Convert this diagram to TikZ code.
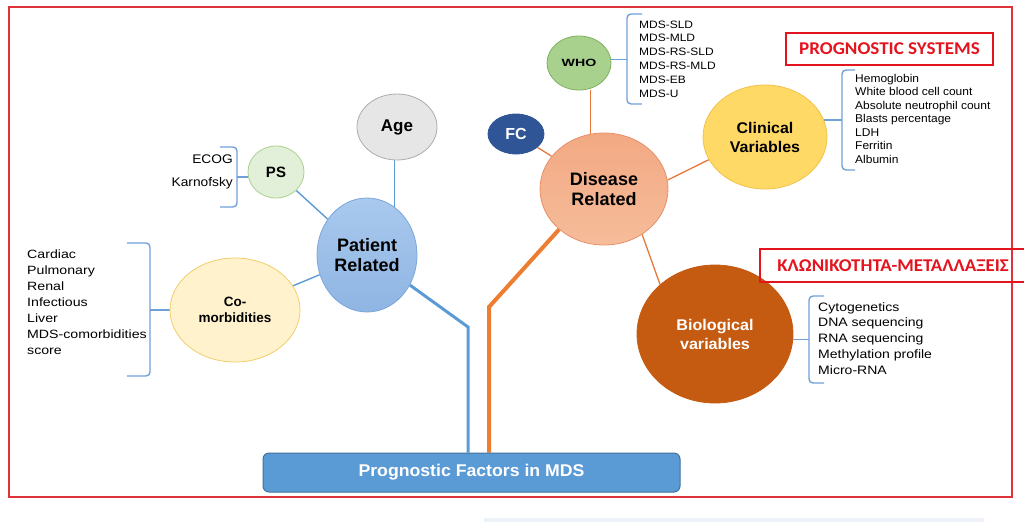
\documentclass[tikz,border=0pt]{standalone}
\usepackage{fontspec}
\setmainfont{Liberation Sans}
\newfontfamily\titlefont{Carlito}
\usetikzlibrary{shapes.geometric,backgrounds}
\definecolor{redc}{HTML}{E3141E}
\definecolor{framered}{HTML}{E0323A}
\definecolor{lineblue}{HTML}{5B9BD5}
\definecolor{brblue}{HTML}{6FA0D8}
\definecolor{lineorange}{HTML}{E8783A}
\definecolor{trunkorange}{HTML}{ED7D31}
\definecolor{pattop}{HTML}{A9C9EE}
\definecolor{patbot}{HTML}{8FB5E3}
\definecolor{patdraw}{HTML}{7AA6DA}
\definecolor{agefill}{HTML}{E6E6E6}
\definecolor{agedraw}{HTML}{ACACAC}
\definecolor{psfill}{HTML}{E2F0D9}
\definecolor{psdraw}{HTML}{A9D18E}
\definecolor{comfill}{HTML}{FFF2CC}
\definecolor{comdraw}{HTML}{F2CD6A}
\definecolor{distop}{HTML}{F2A983}
\definecolor{disbot}{HTML}{F6BC9A}
\definecolor{disdraw}{HTML}{E8906A}
\definecolor{fcfill}{HTML}{2F5597}
\definecolor{whofill}{HTML}{A9D18E}
\definecolor{whodraw}{HTML}{7FB060}
\definecolor{clinfill}{HTML}{FFD966}
\definecolor{clindraw}{HTML}{F0C24A}
\definecolor{biofill}{HTML}{C55A11}
\definecolor{boxfill}{HTML}{5B9BD5}
\definecolor{boxdraw}{HTML}{41719C}
\definecolor{faint}{HTML}{EEF3F9}
\newcommand\sizestretch[3]{\fontsize{#1}{#2}\selectfont\addfontfeature{FakeStretch=#3}}
\begin{document}
\begin{tikzpicture}[x=1pt,y=-1pt,
  bub/.style={ellipse, inner sep=0pt, align=center, line width=0.8pt},
  bline/.style={draw=lineblue, line width=1.4pt},
  oline/.style={draw=lineorange, line width=1.3pt},
  brk/.style={draw=brblue, line width=1.4pt, rounded corners=4pt},
  tick/.style={draw=brblue, line width=1.4pt},
  lst/.style={inner sep=0pt, align=left, anchor=north west},
  redbox/.style={draw=redc, line width=1.5pt, inner sep=0pt, text=redc}
]
\useasboundingbox (0,0) rectangle (1024,522);
% outer frame
\draw[draw=framered, line width=1.2pt] (9,7) rectangle (1012,497);
\fill[faint] (484,518) rectangle (984,522);

% main box
\node[rectangle, rounded corners=6pt, fill=boxfill, draw=boxdraw, line width=1pt,
      minimum width=417, minimum height=39, text=white,
      font=\bfseries\sizestretch{17}{20}{1.04}] (box) at (471.5,472.5) {Prognostic Factors in MDS};

% patient side
\node[bub, top color=pattop, bottom color=patbot, draw=patdraw, minimum width=100, minimum height=114,
      font=\bfseries\sizestretch{18}{20}{1}] (pat) at (367,255) {Patient\\Related};
\node[bub, fill=agefill, draw=agedraw, minimum width=80, minimum height=66,
      font=\bfseries\sizestretch{17}{20}{1}] (age) at (397,127) {Age};
\node[bub, fill=psfill, draw=psdraw, minimum width=56, minimum height=52,
      font=\bfseries\sizestretch{15}{18}{1}] (ps) at (276,172) {PS};
\node[bub, fill=comfill, draw=comdraw, minimum width=130, minimum height=104,
      font=\bfseries\sizestretch{13.5}{16.5}{1}] (com) at (235,310) {Co-\\morbidities};

% disease side
\node[bub, top color=distop, bottom color=disbot, draw=disdraw, minimum width=128, minimum height=112,
      font=\bfseries\sizestretch{18}{20}{1}] (dis) at (604,189) {Disease\\Related};
\node[bub, fill=fcfill, draw=fcfill, minimum width=56, minimum height=40, text=white,
      font=\bfseries\sizestretch{16}{18}{1}] (fc) at (516,134) {FC};
\node[bub, fill=whofill, draw=whodraw, minimum width=64, minimum height=54,
      font=\bfseries\sizestretch{10.5}{12}{1.35}] (who) at (579,63) {WHO};
\node[bub, fill=clinfill, draw=clindraw, minimum width=124, minimum height=104,
      font=\bfseries\sizestretch{15.5}{19}{1.03}] (clin) at (765,137) {Clinical\\Variables};
\node[bub, fill=biofill, draw=biofill, minimum width=156, minimum height=138, text=white,
      font=\bfseries\sizestretch{15.5}{19}{1.04}] (bio) at (715,334) {Biological\\variables};

% lists
\node[lst, font=\sizestretch{12}{16}{1.18}] (comlist) at (27,249.5)
  {Cardiac\\Pulmonary\\Renal\\Infectious\\Liver\\MDS-comorbidities\\score};
\node[inner sep=0pt, align=right, anchor=north east, font=\sizestretch{12.5}{23}{1.1}] (pslist) at (233,155)
  {ECOG\\Karnofsky};
\node[lst, font=\sizestretch{10.7}{13.8}{1.12}] (wholist) at (639,20.5)
  {MDS-SLD\\MDS-MLD\\MDS-RS-SLD\\MDS-RS-MLD\\MDS-EB\\MDS-U};
\node[lst, font=\sizestretch{11.3}{13.5}{1.06}] (clinlist) at (855,74)
  {Hemoglobin\\White blood cell count\\Absolute neutrophil count\\Blasts percentage\\LDH\\Ferritin\\Albumin};
\node[lst, font=\sizestretch{12.2}{15.8}{1.15}] (biolist) at (818,302)
  {Cytogenetics\\DNA sequencing\\RNA sequencing\\Methylation profile\\Micro-RNA};

% red titles
\node[redbox, minimum width=207, minimum height=32,
      font=\titlefont\bfseries\sizestretch{18}{20}{1.06}] (progsys) at (889.5,49) {PROGNOSTIC SYSTEMS};
\node[redbox, minimum width=266, minimum height=33,
      font=\titlefont\bfseries\sizestretch{18}{20}{1.05}] (clonal) at (893,265.5) {ΚΛΩΝΙΚΟΤΗΤΑ-ΜΕΤΑΛΛΑΞΕΙΣ};

% brackets
\coordinate (psbr) at (237,176);
\coordinate (combr) at (150,309);
\coordinate (whobr) at (627,60);
\coordinate (clinbr) at (842,120);
\coordinate (biobr) at (809,339);
\draw[brk] (220,147) -- (237,147) -- (237,207) -- (220,207);
\draw[brk] (127,243) -- (150,243) -- (150,376) -- (127,376);
\draw[brk] (642,14) -- (627,14) -- (627,104) -- (642,104);
\draw[brk] (855,70) -- (842,70) -- (842,170) -- (855,170);
\draw[brk] (824,296) -- (809,296) -- (809,383) -- (824,383);

\begin{pgfonlayer}{background}
  \draw[tick] (ps.190) -- (ps.190 -| psbr);
  \draw[tick] (com.west) -- (com.west -| combr);
  \draw[tick] (who.6) -- (who.6 -| whobr);
  \draw[tick] (clin.16) -- (clin.16 -| clinbr);
  \draw[tick] (bio.-4) -- (bio.-4 -| biobr);
  % patient connectors
  \draw[bline] (pat.60) -- (pat.60 |- age.south);
  \draw[bline] (pat) -- (ps);
  \draw[bline] (pat) -- (com);
  % disease connectors
  \draw[oline] (dis.104) -- (dis.104 |- who.south);
  \draw[oline] (dis) -- (fc);
  \draw[oline] (dis.8) -- (clin.202);
  \draw[oline] (dis.-50) -- (bio.138);
  % trunks
  \coordinate (bbend) at (468,327);
  \coordinate (obend) at (489,307);
  \draw[draw=lineblue, line width=3pt] (pat.-35) -- (bbend) -- (bbend |- box.north);
  \draw[draw=trunkorange, line width=4pt] (dis.-138) -- (obend) -- (obend |- box.north);
\end{pgfonlayer}
\end{tikzpicture}
\end{document}
